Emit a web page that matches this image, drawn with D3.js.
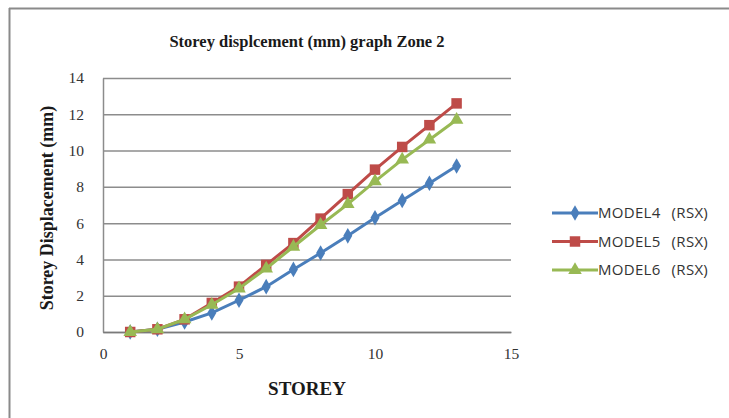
<!DOCTYPE html>
<html>
<head>
<meta charset="utf-8">
<script src="https://cdn.jsdelivr.net/npm/d3@7"></script>
<style>
  html, body { margin: 0; padding: 0; background: #fff; }
  svg { display: block; }
</style>
</head>
<body>
<svg id="chart" width="729" height="418"></svg>
<script>
// Storey numbers and lateral displacement (mm) for each model
const storeys = [1, 2, 3, 4, 5, 6, 7, 8, 9, 10, 11, 12, 13];
const model4 = [0, 0.15, 0.55, 1.05, 1.75, 2.5, 3.45, 4.35, 5.3, 6.3, 7.25, 8.2, 9.15];
const model5 = [0, 0.15, 0.7, 1.6, 2.5, 3.7, 4.9, 6.25, 7.6, 8.95, 10.2, 11.4, 12.6];
const model6 = [0, 0.15, 0.7, 1.5, 2.4, 3.5, 4.7, 5.9, 7.05, 8.3, 9.5, 10.6, 11.7];
const seriesNames = ["MODEL4", "MODEL5", "MODEL6"];
const seriesSuffix = "(RSX)";
const xTicks = [0, 5, 10, 15];
const yTicks = [0, 2, 4, 6, 8, 10, 12, 14];

const serif = "'Liberation Serif', 'Times New Roman', serif";
const svg = d3.select("#chart");

// outer chart frame (top and left edges)
svg.append("line").attr("x1", 9).attr("x2", 729).attr("y1", 8.5).attr("y2", 8.5)
  .attr("stroke", "#8a8a8a").attr("stroke-width", 2);
svg.append("line").attr("x1", 9.5).attr("x2", 9.5).attr("y1", 8).attr("y2", 418)
  .attr("stroke", "#8a8a8a").attr("stroke-width", 2);

const plot = { left: 103, right: 511, top: 78, bottom: 332 };

const x = d3.scaleLinear().domain([0, 15]).range([plot.left, plot.right]);
const y = d3.scaleLinear().domain([0, 14]).range([plot.bottom, plot.top]);

// horizontal gridlines
svg.append("g")
  .attr("transform", `translate(${plot.left},0)`)
  .call(d3.axisLeft(y).tickValues(yTicks).tickSize(-(plot.right - plot.left)).tickFormat(""))
  .call(g => g.select(".domain").remove())
  .call(g => g.selectAll(".tick line").attr("stroke", "#8c8c8c").attr("stroke-width", 1.5));

// y axis
const yAxis = svg.append("g")
  .attr("transform", `translate(${plot.left},0)`)
  .call(d3.axisLeft(y).tickValues(yTicks).tickSize(0).tickPadding(19));
yAxis.select(".domain").attr("stroke", "#8c8c8c").attr("stroke-width", 1.5);
yAxis.selectAll("text")
  .attr("font-family", serif)
  .attr("font-size", 15.5).attr("fill", "#333");

// x axis
const xAxis = svg.append("g")
  .attr("transform", `translate(0,${plot.bottom})`)
  .call(d3.axisBottom(x).tickValues(xTicks).tickSize(0).tickPadding(16));
xAxis.select(".domain").attr("stroke", "#7a7a7a").attr("stroke-width", 1.5);
xAxis.selectAll("text")
  .attr("font-family", serif)
  .attr("font-size", 15.5).attr("fill", "#333");

// titles
svg.append("text")
  .attr("x", 307).attr("y", 47)
  .attr("text-anchor", "middle")
  .attr("font-family", serif)
  .attr("font-weight", "bold").attr("font-size", 16.5).attr("fill", "#1a1a1a")
  .text("Storey displcement (mm) graph Zone 2");

svg.append("text")
  .attr("x", 307).attr("y", 395)
  .attr("text-anchor", "middle")
  .attr("font-family", serif)
  .attr("font-weight", "bold").attr("font-size", 19).attr("fill", "#1a1a1a")
  .text("STOREY");

svg.append("text")
  .attr("transform", "translate(53,208) rotate(-90)")
  .attr("text-anchor", "middle")
  .attr("font-family", serif)
  .attr("font-weight", "bold").attr("font-size", 18).attr("fill", "#1a1a1a")
  .text("Storey Displacement (mm)");

// series
const series = [
  { name: seriesNames[0], values: model4, color: "#4a7ebb", marker: d3.symbolDiamond, size: 70 },
  { name: seriesNames[1], values: model5, color: "#be4b48", marker: d3.symbolSquare, size: 110 },
  { name: seriesNames[2], values: model6, color: "#98b954", marker: d3.symbolTriangle, size: 80 }
];

const line = d3.line().x(d => x(d[0])).y(d => y(d[1]));

series.forEach(s => {
  const pts = storeys.map((st, i) => [st, s.values[i]]);
  svg.append("path")
    .datum(pts)
    .attr("fill", "none")
    .attr("stroke", s.color)
    .attr("stroke-width", 3)
    .attr("d", line);
  svg.append("g").selectAll("path")
    .data(pts)
    .join("path")
    .attr("transform", d => `translate(${x(d[0])},${y(d[1])})`)
    .attr("d", d3.symbol().type(s.marker).size(s.size))
    .attr("fill", s.color);
});

// legend
const legend = svg.append("g").attr("transform", "translate(552,213)");
series.forEach((s, i) => {
  const g = legend.append("g").attr("transform", `translate(0,${i * 28.5})`);
  g.append("line").attr("x1", 0).attr("x2", 46).attr("y1", 0).attr("y2", 0)
    .attr("stroke", s.color).attr("stroke-width", 3);
  g.append("path")
    .attr("transform", "translate(23,0)")
    .attr("d", d3.symbol().type(s.marker).size(s.size))
    .attr("fill", s.color);
  const t = g.append("text")
    .attr("x", 46).attr("y", 0).attr("dy", "0.36em")
    .attr("font-family", "'Open Sans', 'Liberation Sans', sans-serif")
    .attr("font-size", 15).attr("fill", "#333")
    .attr("letter-spacing", 0.3);
  t.append("tspan").text(s.name);
  t.append("tspan").attr("dx", 11).text(seriesSuffix);
});
</script>
</body>
</html>
